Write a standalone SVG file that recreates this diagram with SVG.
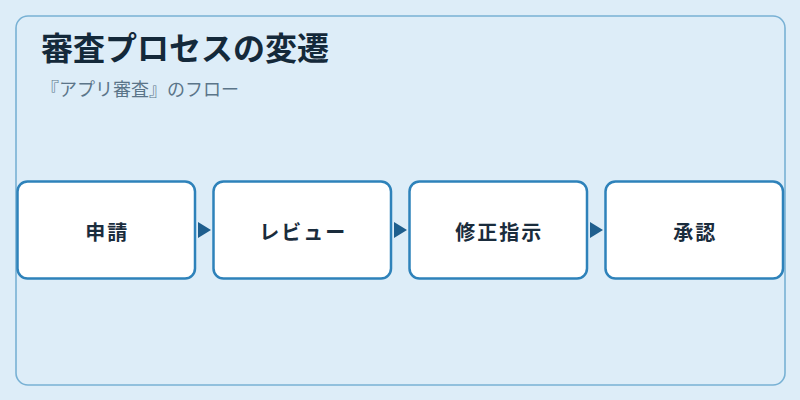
<svg xmlns="http://www.w3.org/2000/svg" width="800" height="400" viewBox="0 0 800 400">
<defs>
<style>
.node rect{fill:#ffffff;stroke:#2e82ba;stroke-width:2.5}
.node text{font-family:"Noto Sans CJK JP","Noto Sans",sans-serif;font-size:20px;font-weight:bold;fill:#1a2c3c;text-anchor:middle;letter-spacing:2px}
.conn{stroke:#1f5f8e;stroke-width:0;fill:none}
.arrow{fill:#1f5f8e}
</style>
<marker id="ah" viewBox="0 0 13 16" refX="13" refY="8" markerWidth="13" markerHeight="16" markerUnits="userSpaceOnUse" orient="auto">
<path d="M0,0 L13,8 L0,16 Z" class="arrow"/>
</marker>
</defs>
<rect x="0" y="0" width="800" height="400" fill="#ddedf8"/>
<rect id="panel" x="16" y="16" width="769" height="369" rx="12" fill="#ddedf8" stroke="#78b1d4" stroke-width="1.6"/>
<text x="41" y="59.5" font-family="Noto Sans CJK JP, Noto Sans, sans-serif" font-size="32" font-weight="bold" fill="#14293a">審査プロセスの変遷</text>
<text x="41" y="96" font-family="Noto Sans CJK JP, Noto Sans, sans-serif" font-size="18" fill="#5b7589">『アプリ審査』のフロー</text>
<g id="connectors">
<path class="conn" d="M198,230 L211,230" marker-end="url(#ah)"/>
<path class="conn" d="M394,230 L407,230" marker-end="url(#ah)"/>
<path class="conn" d="M590,230 L603,230" marker-end="url(#ah)"/>
</g>
<g id="node-1" class="node"><rect x="17.5" y="181.5" width="177.5" height="97" rx="10"/><text x="107.25" y="239.5">申請</text></g>
<g id="node-2" class="node"><rect x="213.5" y="181.5" width="177.5" height="97" rx="10"/><text x="303.25" y="239.5">レビュー</text></g>
<g id="node-3" class="node"><rect x="409.5" y="181.5" width="177.5" height="97" rx="10"/><text x="499.25" y="239.5">修正指示</text></g>
<g id="node-4" class="node"><rect x="605.5" y="181.5" width="177.5" height="97" rx="10"/><text x="695.25" y="239.5">承認</text></g>
</svg>
